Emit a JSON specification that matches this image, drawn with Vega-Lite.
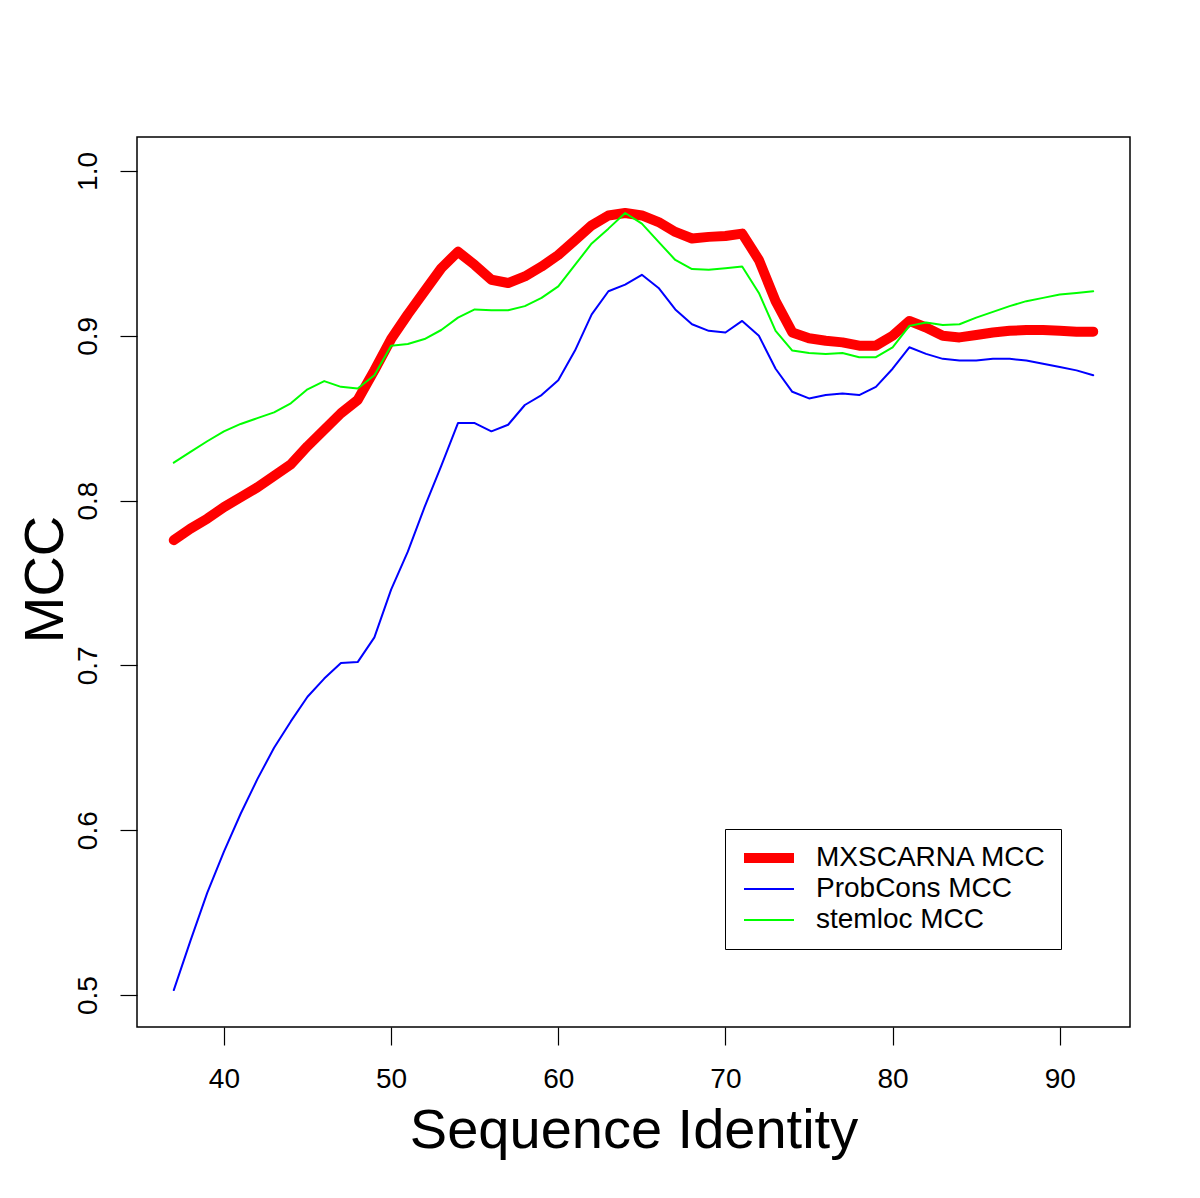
{
  "$schema": "https://vega.github.io/schema/vega-lite/v6.json",
  "width": 993,
  "height": 890,
  "autosize": {"type": "none"},
  "padding": {"left": 137, "top": 137, "right": 70, "bottom": 171},
  "background": "white",
  "config": {
    "view": {"stroke": "black", "strokeWidth": 1.5},
    "font": "Liberation Sans",
    "axis": {"grid": false, "domain": false, "tickColor": "black", "tickWidth": 1.2, "labelColor": "black", "titleColor": "black", "labelFont": "Liberation Sans", "titleFont": "Liberation Sans", "titleFontWeight": "normal"}
  },
  "data": {"values": [
    {"x":37,"series":"MXSCARNA MCC","mcc":0.776},{"x":38,"series":"MXSCARNA MCC","mcc":0.783},{"x":39,"series":"MXSCARNA MCC","mcc":0.789},{"x":40,"series":"MXSCARNA MCC","mcc":0.796},{"x":41,"series":"MXSCARNA MCC","mcc":0.802},{"x":42,"series":"MXSCARNA MCC","mcc":0.808},{"x":43,"series":"MXSCARNA MCC","mcc":0.815},{"x":44,"series":"MXSCARNA MCC","mcc":0.822},{"x":45,"series":"MXSCARNA MCC","mcc":0.833},{"x":46,"series":"MXSCARNA MCC","mcc":0.843},{"x":47,"series":"MXSCARNA MCC","mcc":0.853},{"x":48,"series":"MXSCARNA MCC","mcc":0.861},{"x":49,"series":"MXSCARNA MCC","mcc":0.879},{"x":50,"series":"MXSCARNA MCC","mcc":0.898},{"x":51,"series":"MXSCARNA MCC","mcc":0.913},{"x":52,"series":"MXSCARNA MCC","mcc":0.927},{"x":53,"series":"MXSCARNA MCC","mcc":0.941},{"x":54,"series":"MXSCARNA MCC","mcc":0.951},{"x":55,"series":"MXSCARNA MCC","mcc":0.943},{"x":56,"series":"MXSCARNA MCC","mcc":0.934},{"x":57,"series":"MXSCARNA MCC","mcc":0.932},{"x":58,"series":"MXSCARNA MCC","mcc":0.936},{"x":59,"series":"MXSCARNA MCC","mcc":0.942},{"x":60,"series":"MXSCARNA MCC","mcc":0.949},{"x":61,"series":"MXSCARNA MCC","mcc":0.958},{"x":62,"series":"MXSCARNA MCC","mcc":0.967},{"x":63,"series":"MXSCARNA MCC","mcc":0.973},{"x":64,"series":"MXSCARNA MCC","mcc":0.9745},{"x":65,"series":"MXSCARNA MCC","mcc":0.973},{"x":66,"series":"MXSCARNA MCC","mcc":0.969},{"x":67,"series":"MXSCARNA MCC","mcc":0.963},{"x":68,"series":"MXSCARNA MCC","mcc":0.959},{"x":69,"series":"MXSCARNA MCC","mcc":0.96},{"x":70,"series":"MXSCARNA MCC","mcc":0.9605},{"x":71,"series":"MXSCARNA MCC","mcc":0.962},{"x":72,"series":"MXSCARNA MCC","mcc":0.946},{"x":73,"series":"MXSCARNA MCC","mcc":0.921},{"x":74,"series":"MXSCARNA MCC","mcc":0.902},{"x":75,"series":"MXSCARNA MCC","mcc":0.8985},{"x":76,"series":"MXSCARNA MCC","mcc":0.897},{"x":77,"series":"MXSCARNA MCC","mcc":0.896},{"x":78,"series":"MXSCARNA MCC","mcc":0.894},{"x":79,"series":"MXSCARNA MCC","mcc":0.894},{"x":80,"series":"MXSCARNA MCC","mcc":0.9},{"x":81,"series":"MXSCARNA MCC","mcc":0.909},{"x":82,"series":"MXSCARNA MCC","mcc":0.905},{"x":83,"series":"MXSCARNA MCC","mcc":0.9},{"x":84,"series":"MXSCARNA MCC","mcc":0.899},{"x":85,"series":"MXSCARNA MCC","mcc":0.9005},{"x":86,"series":"MXSCARNA MCC","mcc":0.902},{"x":87,"series":"MXSCARNA MCC","mcc":0.903},{"x":88,"series":"MXSCARNA MCC","mcc":0.9035},{"x":89,"series":"MXSCARNA MCC","mcc":0.9035},{"x":90,"series":"MXSCARNA MCC","mcc":0.903},{"x":91,"series":"MXSCARNA MCC","mcc":0.9025},{"x":92,"series":"MXSCARNA MCC","mcc":0.9025},
    {"x":37,"series":"ProbCons MCC","mcc":0.503},{"x":38,"series":"ProbCons MCC","mcc":0.533},{"x":39,"series":"ProbCons MCC","mcc":0.562},{"x":40,"series":"ProbCons MCC","mcc":0.587},{"x":41,"series":"ProbCons MCC","mcc":0.61},{"x":42,"series":"ProbCons MCC","mcc":0.631},{"x":43,"series":"ProbCons MCC","mcc":0.65},{"x":44,"series":"ProbCons MCC","mcc":0.666},{"x":45,"series":"ProbCons MCC","mcc":0.681},{"x":46,"series":"ProbCons MCC","mcc":0.692},{"x":47,"series":"ProbCons MCC","mcc":0.7015},{"x":48,"series":"ProbCons MCC","mcc":0.702},{"x":49,"series":"ProbCons MCC","mcc":0.717},{"x":50,"series":"ProbCons MCC","mcc":0.746},{"x":51,"series":"ProbCons MCC","mcc":0.769},{"x":52,"series":"ProbCons MCC","mcc":0.796},{"x":53,"series":"ProbCons MCC","mcc":0.821},{"x":54,"series":"ProbCons MCC","mcc":0.847},{"x":55,"series":"ProbCons MCC","mcc":0.847},{"x":56,"series":"ProbCons MCC","mcc":0.842},{"x":57,"series":"ProbCons MCC","mcc":0.846},{"x":58,"series":"ProbCons MCC","mcc":0.858},{"x":59,"series":"ProbCons MCC","mcc":0.864},{"x":60,"series":"ProbCons MCC","mcc":0.873},{"x":61,"series":"ProbCons MCC","mcc":0.891},{"x":62,"series":"ProbCons MCC","mcc":0.913},{"x":63,"series":"ProbCons MCC","mcc":0.927},{"x":64,"series":"ProbCons MCC","mcc":0.931},{"x":65,"series":"ProbCons MCC","mcc":0.937},{"x":66,"series":"ProbCons MCC","mcc":0.929},{"x":67,"series":"ProbCons MCC","mcc":0.916},{"x":68,"series":"ProbCons MCC","mcc":0.907},{"x":69,"series":"ProbCons MCC","mcc":0.903},{"x":70,"series":"ProbCons MCC","mcc":0.902},{"x":71,"series":"ProbCons MCC","mcc":0.909},{"x":72,"series":"ProbCons MCC","mcc":0.9},{"x":73,"series":"ProbCons MCC","mcc":0.88},{"x":74,"series":"ProbCons MCC","mcc":0.866},{"x":75,"series":"ProbCons MCC","mcc":0.862},{"x":76,"series":"ProbCons MCC","mcc":0.864},{"x":77,"series":"ProbCons MCC","mcc":0.865},{"x":78,"series":"ProbCons MCC","mcc":0.864},{"x":79,"series":"ProbCons MCC","mcc":0.869},{"x":80,"series":"ProbCons MCC","mcc":0.88},{"x":81,"series":"ProbCons MCC","mcc":0.893},{"x":82,"series":"ProbCons MCC","mcc":0.889},{"x":83,"series":"ProbCons MCC","mcc":0.886},{"x":84,"series":"ProbCons MCC","mcc":0.885},{"x":85,"series":"ProbCons MCC","mcc":0.885},{"x":86,"series":"ProbCons MCC","mcc":0.886},{"x":87,"series":"ProbCons MCC","mcc":0.886},{"x":88,"series":"ProbCons MCC","mcc":0.885},{"x":89,"series":"ProbCons MCC","mcc":0.883},{"x":90,"series":"ProbCons MCC","mcc":0.881},{"x":91,"series":"ProbCons MCC","mcc":0.879},{"x":92,"series":"ProbCons MCC","mcc":0.876},
    {"x":37,"series":"stemloc MCC","mcc":0.823},{"x":38,"series":"stemloc MCC","mcc":0.8295},{"x":39,"series":"stemloc MCC","mcc":0.836},{"x":40,"series":"stemloc MCC","mcc":0.842},{"x":41,"series":"stemloc MCC","mcc":0.8465},{"x":42,"series":"stemloc MCC","mcc":0.85},{"x":43,"series":"stemloc MCC","mcc":0.8535},{"x":44,"series":"stemloc MCC","mcc":0.859},{"x":45,"series":"stemloc MCC","mcc":0.8675},{"x":46,"series":"stemloc MCC","mcc":0.8725},{"x":47,"series":"stemloc MCC","mcc":0.869},{"x":48,"series":"stemloc MCC","mcc":0.868},{"x":49,"series":"stemloc MCC","mcc":0.876},{"x":50,"series":"stemloc MCC","mcc":0.894},{"x":51,"series":"stemloc MCC","mcc":0.895},{"x":52,"series":"stemloc MCC","mcc":0.898},{"x":53,"series":"stemloc MCC","mcc":0.9035},{"x":54,"series":"stemloc MCC","mcc":0.911},{"x":55,"series":"stemloc MCC","mcc":0.916},{"x":56,"series":"stemloc MCC","mcc":0.9155},{"x":57,"series":"stemloc MCC","mcc":0.9155},{"x":58,"series":"stemloc MCC","mcc":0.918},{"x":59,"series":"stemloc MCC","mcc":0.923},{"x":60,"series":"stemloc MCC","mcc":0.93},{"x":61,"series":"stemloc MCC","mcc":0.943},{"x":62,"series":"stemloc MCC","mcc":0.956},{"x":63,"series":"stemloc MCC","mcc":0.965},{"x":64,"series":"stemloc MCC","mcc":0.9745},{"x":65,"series":"stemloc MCC","mcc":0.968},{"x":66,"series":"stemloc MCC","mcc":0.957},{"x":67,"series":"stemloc MCC","mcc":0.946},{"x":68,"series":"stemloc MCC","mcc":0.9405},{"x":69,"series":"stemloc MCC","mcc":0.94},{"x":70,"series":"stemloc MCC","mcc":0.941},{"x":71,"series":"stemloc MCC","mcc":0.942},{"x":72,"series":"stemloc MCC","mcc":0.926},{"x":73,"series":"stemloc MCC","mcc":0.903},{"x":74,"series":"stemloc MCC","mcc":0.891},{"x":75,"series":"stemloc MCC","mcc":0.8895},{"x":76,"series":"stemloc MCC","mcc":0.889},{"x":77,"series":"stemloc MCC","mcc":0.8895},{"x":78,"series":"stemloc MCC","mcc":0.887},{"x":79,"series":"stemloc MCC","mcc":0.887},{"x":80,"series":"stemloc MCC","mcc":0.893},{"x":81,"series":"stemloc MCC","mcc":0.906},{"x":82,"series":"stemloc MCC","mcc":0.908},{"x":83,"series":"stemloc MCC","mcc":0.9065},{"x":84,"series":"stemloc MCC","mcc":0.907},{"x":85,"series":"stemloc MCC","mcc":0.911},{"x":86,"series":"stemloc MCC","mcc":0.9145},{"x":87,"series":"stemloc MCC","mcc":0.918},{"x":88,"series":"stemloc MCC","mcc":0.921},{"x":89,"series":"stemloc MCC","mcc":0.923},{"x":90,"series":"stemloc MCC","mcc":0.925},{"x":91,"series":"stemloc MCC","mcc":0.926},{"x":92,"series":"stemloc MCC","mcc":0.927}
  ]},
  "encoding": {
    "x": {"field": "x", "type": "quantitative",
      "scale": {"domain": [34.8, 94.2], "nice": false, "zero": false},
      "axis": {"values": [40, 50, 60, 70, 80, 90], "tickSize": 18, "labelFontSize": 28, "labelPadding": 20,
        "title": "Sequence Identity", "titleFontSize": 56, "titleBaseline": "alphabetic", "titleY": 120}},
    "y": {"field": "mcc", "type": "quantitative",
      "scale": {"domain": [0.4806, 1.0206], "nice": false, "zero": false},
      "axis": {"values": [0.5, 0.6, 0.7, 0.8, 0.9, 1.0], "format": ".1f", "tickSize": 17, "labelFontSize": 28, "labelPadding": 18,
        "labelAngle": -90, "labelAlign": "center", "labelBaseline": "bottom",
        "title": "MCC", "titleFontSize": 56, "titleAngle": -90, "titleBaseline": "alphabetic", "titleX": -75, "titleY": 442}},
    "color": {"field": "series", "type": "nominal",
      "scale": {"domain": ["MXSCARNA MCC", "ProbCons MCC", "stemloc MCC"], "range": ["#FF0000", "#0000FF", "#00FF00"]},
      "legend": {"title": null, "orient": "none", "legendX": 588, "legendY": 692, "symbolType": "stroke", "symbolSize": 2500,
        "labelFontSize": 28, "labelColor": "black", "labelOffset": 17, "labelFont": "Liberation Sans", "labelLimit": 0,
        "strokeColor": "black", "fillColor": "white", "padding": 14, "rowPadding": 1, "clipHeight": 30}},
    "strokeWidth": {"field": "series", "type": "nominal",
      "scale": {"type": "ordinal", "domain": ["MXSCARNA MCC", "ProbCons MCC", "stemloc MCC"], "range": [10, 2, 2]},
      "legend": {"title": null, "orient": "none", "legendX": 588, "legendY": 692, "symbolType": "stroke", "symbolSize": 2500,
        "labelFontSize": 28, "labelColor": "black", "labelOffset": 17, "labelFont": "Liberation Sans", "labelLimit": 0,
        "strokeColor": "black", "fillColor": "white", "padding": 14, "rowPadding": 1, "clipHeight": 30}}
  },
  "layer": [
    {"transform": [{"filter": "datum.series === 'MXSCARNA MCC'"}], "mark": {"type": "line", "strokeCap": "round", "strokeJoin": "round"}},
    {"transform": [{"filter": "datum.series === 'ProbCons MCC'"}], "mark": {"type": "line", "strokeCap": "round", "strokeJoin": "round"}},
    {"transform": [{"filter": "datum.series === 'stemloc MCC'"}], "mark": {"type": "line", "strokeCap": "round", "strokeJoin": "round"}}
  ]
}
